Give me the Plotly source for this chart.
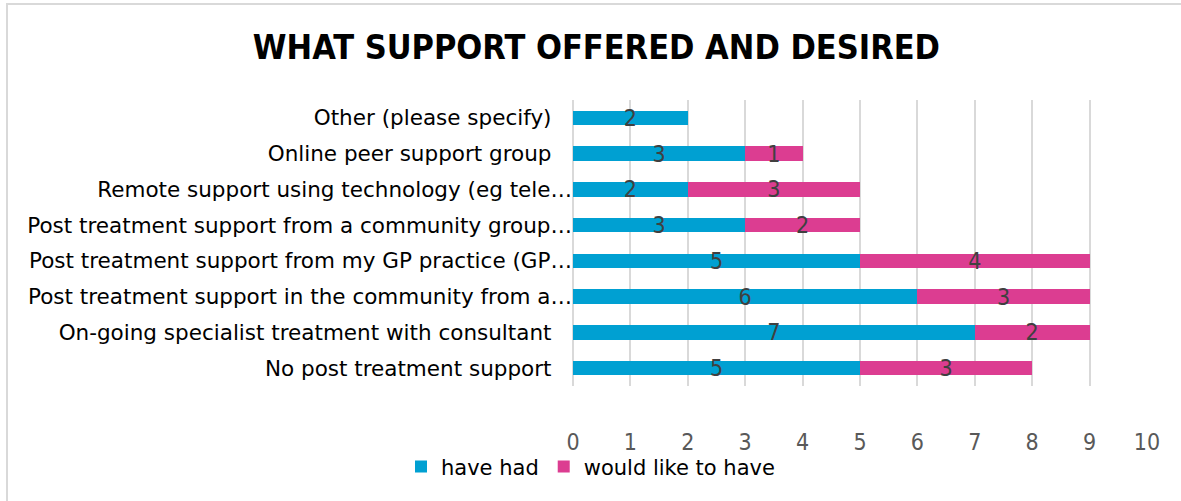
import plotly.graph_objects as go

categories = [
    "No post treatment support",
    "On-going specialist treatment with consultant",
    "Post treatment support in the community from a…",
    "Post treatment support from my GP practice (GP…",
    "Post treatment support from a community group…",
    "Remote support using technology (eg tele…",
    "Online peer support group",
    "Other (please specify)",
]
have_had = [5, 7, 6, 5, 3, 2, 3, 2]
would_like = [3, 2, 3, 4, 2, 3, 1, None]
x_ticks = list(range(0, 11))

BLUE = "#00A0D2"
PINK = "#DC3D91"
FONT = "DejaVu Sans"
FONT_C = "DejaVu Sans Condensed"

def lbl(c):
    return c if c.endswith("…") else c + "   "

ylabels = [lbl(c) for c in categories]

fig = go.Figure()
for vals, name, col in [(have_had, "have had", BLUE), (would_like, "would like to have", PINK)]:
    fig.add_trace(go.Bar(
        y=ylabels, x=vals, orientation="h", name=name,
        marker=dict(color=col, line=dict(width=0)),
        text=vals, textposition="inside", insidetextanchor="middle",
        textangle=0, constraintext="none", cliponaxis=False,
        textfont=dict(color="#404040", size=23, family=FONT_C),
    ))

# chart-area border (top and left edges visible in the reference)
px_x = lambda p: (p - 573) / 574
px_y = lambda p: (386 - p) / 286

fig.update_layout(
    barmode="stack",
    bargap=0.6,
    width=1181, height=501,
    paper_bgcolor="white", plot_bgcolor="white",
    margin=dict(l=573, r=34, t=100, b=115),
    font=dict(family=FONT, size=19, color="#000000"),
    title=dict(
        text="<b>WHAT SUPPORT OFFERED AND DESIRED</b>",
        x=0.505, xref="container", xanchor="center",
        y=0.906, yref="container", yanchor="middle",
        font=dict(size=34, color="#000000", family=FONT_C),
    ),
    xaxis=dict(
        range=[0, 10], tickvals=x_ticks, ticktext=[str(v) for v in x_ticks],
        showgrid=True, gridcolor="#D9D9D9", gridwidth=2,
        zeroline=True, zerolinecolor="#D9D9D9", zerolinewidth=2,
        tickfont=dict(color="#595959", size=23, family=FONT_C),
        ticks="", showline=False, fixedrange=True,
        ticklabelstandoff=40, automargin=False,
    ),
    yaxis=dict(
        showgrid=False, ticks="", showline=False,
        tickfont=dict(color="#000000", size=21.5, family=FONT),
        automargin=False, fixedrange=True,
    ),
    legend=dict(
        orientation="h", xref="container", x=0.5, xanchor="center",
        yref="container", y=0.068, yanchor="middle",
        font=dict(size=21, color="#000000", family=FONT),
        bgcolor="rgba(0,0,0,0)",
        itemwidth=30, traceorder="normal",
    ),
    shapes=[
        dict(type="line", xref="paper", yref="paper",
             x0=px_x(6), x1=px_x(1200), y0=px_y(4), y1=px_y(4),
             line=dict(color="#D9D9D9", width=2), layer="below"),
        dict(type="line", xref="paper", yref="paper",
             x0=px_x(7), x1=px_x(7), y0=px_y(3), y1=px_y(520),
             line=dict(color="#D9D9D9", width=2), layer="below"),
    ],
)

fig.write_html("out.html", config={"displayModeBar": False},
               post_script="document.body.style.margin='0';")
